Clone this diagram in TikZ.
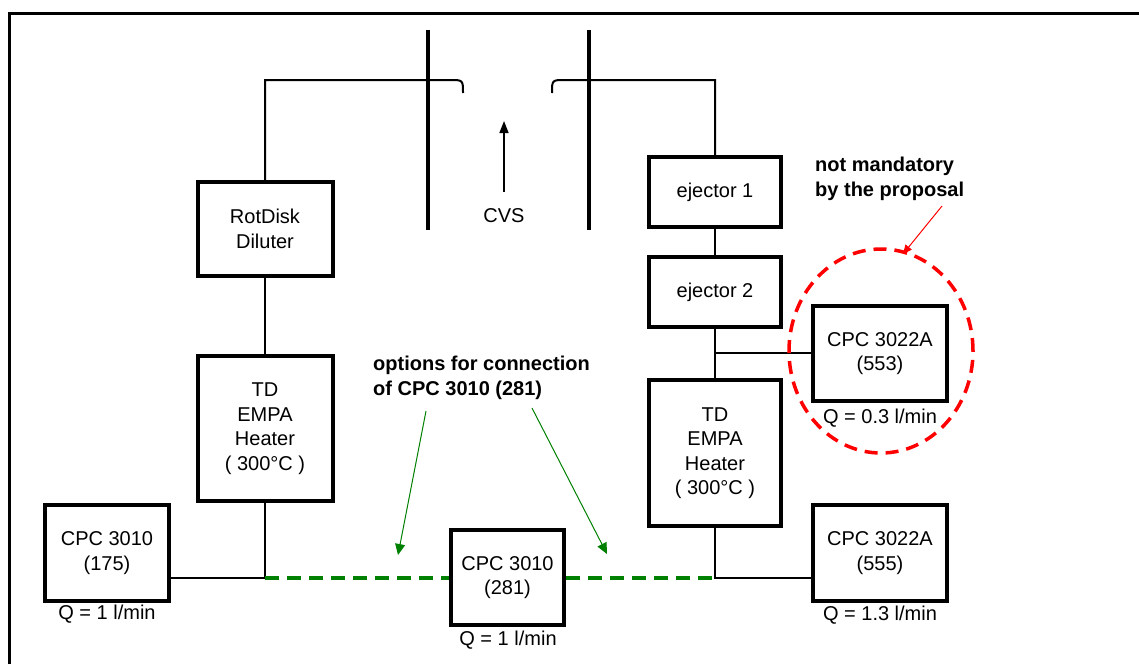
\documentclass[tikz,border=0pt]{standalone}
\usepackage{fontspec}
\setmainfont{Liberation Sans}
\usetikzlibrary{arrows.meta}
\definecolor{optgreen}{RGB}{0,128,0}
\definecolor{optred}{RGB}{255,0,0}
\begin{document}
\begin{tikzpicture}[x=1pt,y=-1pt,
  font=\fontsize{20}{24.5}\selectfont,
  unit/.style={draw, line width=4pt, align=center, inner sep=0pt},
  pipe/.style={line width=2pt},
  wall/.style={line width=4.5pt},
  flowlabel/.style={inner sep=0pt},
  note/.style={font=\fontsize{20}{24.5}\selectfont\bfseries, align=left, inner sep=0pt, anchor=west},
  optline/.style={optgreen, line width=4pt, dash pattern=on 14pt off 8pt},
  optarrow/.style={optgreen, line width=1pt, -{Triangle[length=11pt,width=10pt]}},
]
\useasboundingbox (0,0) rectangle (1139,664);
% frame
\draw[line width=3pt] (9,664) -- (9,13) -- (1139,13);

% CVS tunnel walls
\coordinate (wl1) at (428,30); \coordinate (wl2) at (428,230);
\coordinate (wr1) at (589,30); \coordinate (wr2) at (589,230);
\draw[wall] (wl1) -- (wl2);
\draw[wall] (wr1) -- (wr2);
\coordinate (cvsa) at (504,192); \coordinate (cvsb) at (504,121);
\draw[line width=1.5pt, -{Triangle[length=12pt,width=9pt]}] (cvsa) -- (cvsb);
\node[flowlabel] (cvs) at (504,216) {CVS};

% boxes
\node[unit, minimum width=135pt, minimum height=94pt] (rot) at (265,229) {RotDisk\\Diluter};
\node[unit, minimum width=135pt, minimum height=145pt] (hl) at (265,428.5) {TD\\EMPA\\Heater\\( 300°C )};
\node[unit, minimum width=124pt, minimum height=96pt] (c175) at (107,553) {CPC 3010\\(175)};
\node[unit, minimum width=113pt, minimum height=95pt] (c281) at (507.5,577.5) {CPC 3010\\(281)};
\node[unit, minimum width=132pt, minimum height=70pt] (ej1) at (715,192) {ejector 1};
\node[unit, minimum width=132pt, minimum height=70pt] (ej2) at (715,292) {ejector 2};
\node[unit, minimum width=132pt, minimum height=146pt] (hr) at (715,453) {TD\\EMPA\\Heater\\( 300°C )};
\node[unit, minimum width=134pt, minimum height=96pt] (c555) at (880,553) {CPC 3022A\\(555)};
\node[unit, minimum width=134pt, minimum height=95pt] (c553) at (880,353.5) {CPC 3022A\\(553)};

% flow labels
\node[flowlabel] (q175) at (107,614) {Q = 1 l/min};
\node[flowlabel] (q281) at (508,640) {Q = 1 l/min};
\node[flowlabel] (q555) at (880,615) {Q = 1.3 l/min};
\node[flowlabel] (q553) at (880,418) {Q = 0.3 l/min};

% pipes
\coordinate (jl) at (265,578);
\coordinate (jr) at (715,578);
\coordinate (pl1) at (450,80); \coordinate (pl2) at (463,93);
\coordinate (pr1) at (565,80); \coordinate (pr2) at (552,93);
\draw[pipe] (rot.north) |- (pl1) .. controls (463,80) .. (pl2);
\draw[pipe] (pr2) .. controls (552,80) .. (pr1) -| (ej1.north);
\draw[pipe] (rot.south) -- (hl.north);
\draw[pipe] (hl.south) -- (jl);
\draw[pipe] (c175.east |- jl) -- (jl);
\draw[pipe] (ej1.south) -- (ej2.north);
\draw[pipe] (ej2.south) -- (hr.north);
\draw[pipe] (715,353) -- (c553.west |- 0,353);
\draw[pipe] (hr.south) -- (jr) -- (c555.west |- jr);

% options (green)
\draw[optline] (jl) -- (c281.west |- jl);
\draw[optline] (c281.east |- jr) -- (jr);
\node[note] (opt) at (373,378) {options for connection\\of CPC 3010 (281)};
\coordinate (ga1) at (426,411); \coordinate (ga2) at (398,555);
\coordinate (gb1) at (532,408); \coordinate (gb2) at (607,554);
\draw[optarrow] (ga1) -- (ga2);
\draw[optarrow] (gb1) -- (gb2);

% not mandatory (red)
\node[note] (nm) at (815,179) {not mandatory\\by the proposal};
\draw[optred, line width=3.5pt, dash pattern=on 13pt off 8pt] (881,351) ellipse [x radius=92pt, y radius=102pt];
\coordinate (ra1) at (942,206); \coordinate (ra2) at (903,254);
\draw[optred, line width=1pt, -{Triangle[length=9pt,width=8pt]}] (ra1) -- (ra2);
\end{tikzpicture}
\end{document}
